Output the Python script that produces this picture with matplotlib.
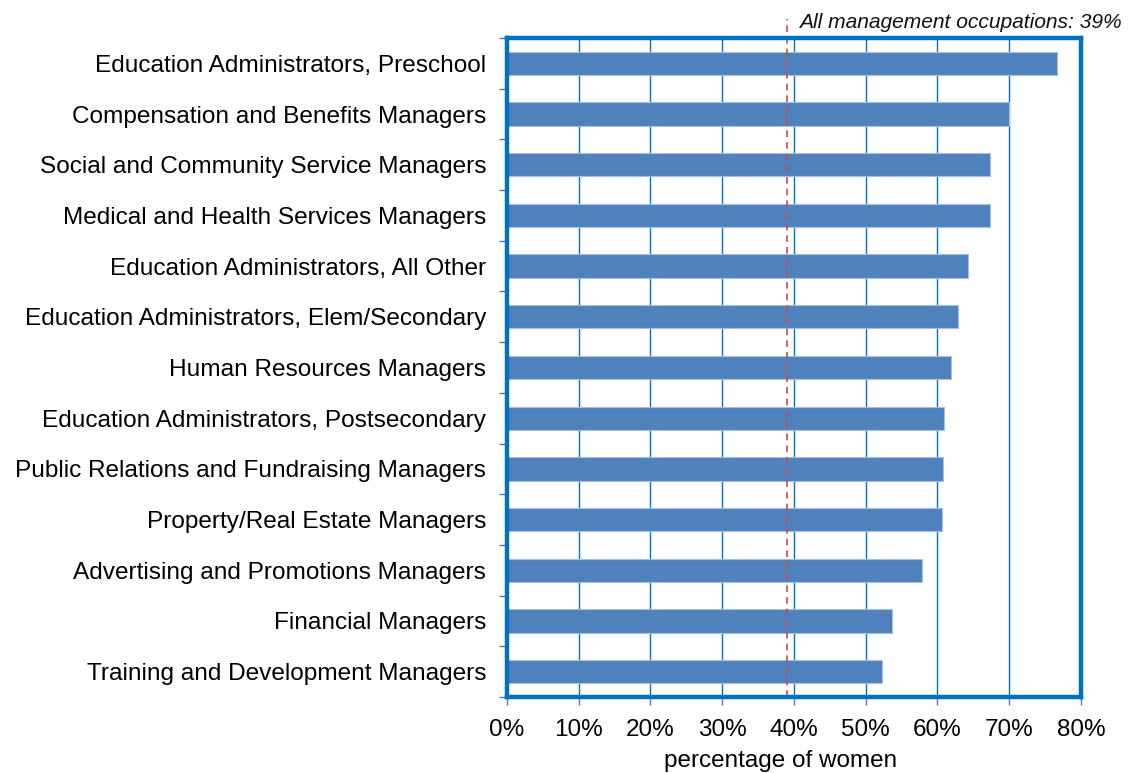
import numpy as np
import matplotlib.pyplot as plt
from matplotlib.ticker import FixedLocator, PercentFormatter

plt.rcParams['font.family'] = ['Liberation Sans', 'DejaVu Sans']

occupations = [
    "Education Administrators, Preschool",
    "Compensation and Benefits Managers",
    "Social and Community Service Managers",
    "Medical and Health Services Managers",
    "Education Administrators, All Other",
    "Education Administrators, Elem/Secondary",
    "Human Resources Managers",
    "Education Administrators, Postsecondary",
    "Public Relations and Fundraising Managers",
    "Property/Real Estate Managers",
    "Advertising and Promotions Managers",
    "Financial Managers",
    "Training and Development Managers",
]
pct_women = [76.6, 69.9, 67.3, 67.3, 64.2, 62.9, 61.9, 60.9, 60.8, 60.6, 57.9, 53.6, 52.2]
all_mgmt = 39
xticks = [0, 10, 20, 30, 40, 50, 60, 70, 80]

frame_blue = '#0070C0'
bar_blue = '#4F81BD'
ref_red = '#C0504D'

fig = plt.figure(figsize=(11.29, 7.73), dpi=100)
ax = fig.add_axes([0.449, 0.0983, 0.5085, 0.8525])

y = np.arange(len(occupations))
ax.barh(y, pct_women, height=0.46, color=bar_blue, edgecolor='#A7BFDE',
        linewidth=0.8, zorder=3)

ax.set_ylim(len(occupations) - 0.5, -0.5)
ax.set_xlim(0, 80)
ax.set_yticks(y)
ax.set_yticklabels(occupations, fontsize=17.6)
ax.yaxis.set_minor_locator(FixedLocator(np.arange(-0.5, len(occupations), 1)))
ax.tick_params(axis='y', which='major', length=0, pad=15)
ax.tick_params(axis='y', which='minor', length=5.5, width=1, color='#4A7EBB')

ax.set_xticks(xticks)
ax.xaxis.set_major_formatter(PercentFormatter(decimals=0))
ax.tick_params(axis='x', labelsize=17.5, length=5.5, width=1, color='#4A7EBB', pad=10)
ax.set_xlabel('percentage of women', fontsize=17.5)
ax.xaxis.set_label_coords(0.476, -0.097)
ax.xaxis.label.set_va('center')

ax.grid(axis='x', color=frame_blue, linewidth=1, zorder=1)
ax.set_axisbelow(True)
for s in ax.spines.values():
    s.set_color(frame_blue)
    s.set_linewidth(3.2)
    s.set_zorder(5)

# reference line for all management occupations, extends above the plot
ax.axvline(all_mgmt, ymin=0, ymax=1.029, color=ref_red, linestyle=(0, (4, 3)),
           linewidth=1.2, clip_on=False, zorder=4)
ax.text(all_mgmt + 1.7, -0.5 - 0.31, 'All management occupations: 39%',
        fontsize=15.1, style='italic', ha='left', va='center', color='#111111')

fig.savefig('out.png', dpi=100)
